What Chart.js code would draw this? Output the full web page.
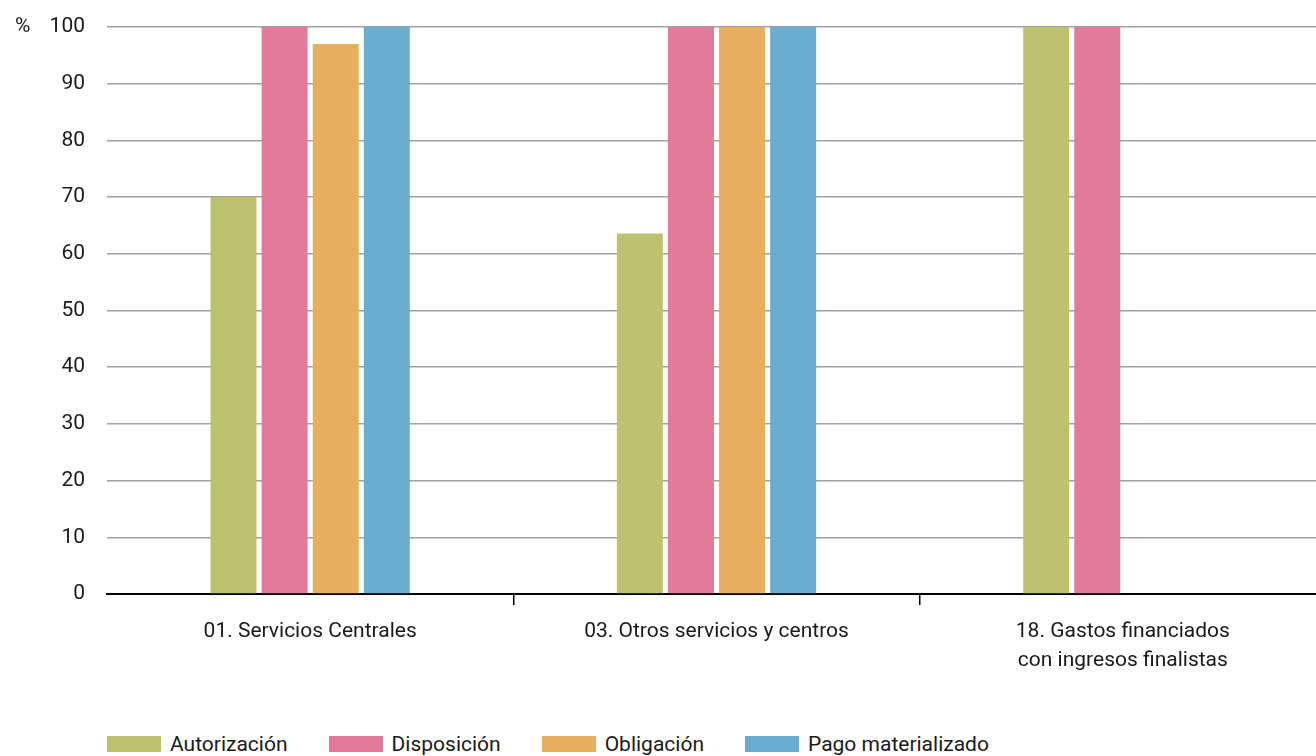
<!DOCTYPE html>
<html>
<head>
<meta charset="utf-8">
<script src="https://cdn.jsdelivr.net/npm/chart.js@4/dist/chart.umd.min.js"></script>
<style>
    html, body { margin: 0; padding: 0; background: #fff; overflow: hidden; }
    #wrap { position: relative; width: 1316px; height: 756px; overflow: hidden; }
    #chartBox { position: absolute; left: 0; top: 0; width: 1326px; height: 691px; }
    #legend { position: absolute; left: 107px; top: 732px; display: flex; font-family: 'Roboto', sans-serif; font-size: 21px; color: #1a1a1a; }
    #legend .item { display: flex; align-items: center; margin-right: 41px; }
    #legend .box { width: 54px; height: 16px; margin-right: 9px; }
</style>
</head>
<body>
<div id="wrap">
    <div id="chartBox"><canvas id="categoryChart"></canvas></div>
    <div id="legend"></div>
</div>
<script>

// --------------------------------------------------------------------------
//                                 data
// --------------------------------------------------------------------------

const categories = [
    ['01. Servicios Centrales'],
    ['03. Otros servicios y centros'],
    ['18. Gastos financiados', 'con ingresos finalistas']
];

const seriesNames = ['Autorización', 'Disposición', 'Obligación', 'Pago materializado'];

const autorizacion = [70, 63.6, 100];
const disposicion = [100, 100, 100];
const obligacion = [97, 100, null];
const pagoMaterializado = [100, 100, null];

const yTicks = [0, 10, 20, 30, 40, 50, 60, 70, 80, 90, 100];

const colors = ['#BEC26E', '#E27A9A', '#E8AE60', '#69AED1'];

const FONT = "'Roboto', sans-serif";

// --------------------------------------------------------------------------
//                                 chart
// --------------------------------------------------------------------------

const percentLabel = {
    id: 'percentLabel',
    afterDraw(chart) {
        const c = chart.ctx;
        c.save();
        c.font = '21px ' + FONT;
        c.fillStyle = '#1a1a1a';
        c.textAlign = 'left';
        c.textBaseline = 'middle';
        c.fillText('%', 15, chart.scales.y.getPixelForValue(100));
        c.restore();
    }
};

const allSeries = [autorizacion, disposicion, obligacion, pagoMaterializado];

const datasets = allSeries.map((values, i) => ({
    label: seriesNames[i],
    data: values,
    backgroundColor: colors[i],
    borderWidth: 0,
    barPercentage: 0.9,
    categoryPercentage: 0.503
}));

new Chart(document.getElementById('categoryChart').getContext('2d'), {
    type: 'bar',
    data: { labels: categories, datasets: datasets },
    plugins: [percentLabel],
    options: {
        responsive: true,
        maintainAspectRatio: false,
        animation: false,
        layout: { padding: { top: 27, right: 0, left: 0, bottom: 0 } },
        plugins: {
            legend: { display: false },
            tooltip: { enabled: false }
        },
        scales: {
            x: {
                offset: true,
                grid: {
                    display: true,
                    drawOnChartArea: false,
                    drawTicks: true,
                    tickLength: 11,
                    lineWidth: 1.5,
                    color: (ctx) => (ctx.index === 0 || ctx.index >= categories.length) ? 'rgba(0,0,0,0)' : '#000'
                },
                border: { display: true, color: '#000', width: 2 },
                ticks: {
                    color: '#1a1a1a',
                    padding: 12,
                    maxRotation: 0,
                    font: { family: FONT, size: 21, lineHeight: 1.38 }
                },
                afterFit: (scale) => { scale.height = 97; }
            },
            y: {
                min: 0,
                max: 100,
                afterBuildTicks: (scale) => { scale.ticks = yTicks.map(v => ({ value: v })); },
                grid: { color: '#a0a0a0', lineWidth: 1.6, drawTicks: false },
                border: { display: false },
                ticks: {
                    color: '#1a1a1a',
                    padding: 22,
                    font: { family: FONT, size: 21 }
                },
                afterFit: (scale) => {
                    scale.width = 107;
                    scale.paddingTop = 12;
                    scale.paddingBottom = 12;
                }
            }
        }
    }
});

// html legend built from the same series
const legend = document.getElementById('legend');
seriesNames.forEach((name, i) => {
    const item = document.createElement('div');
    item.className = 'item';
    item.innerHTML = '<span class="box" style="background:' + colors[i] + '"></span><span>' + name + '</span>';
    legend.appendChild(item);
});

</script>
</body>
</html>
